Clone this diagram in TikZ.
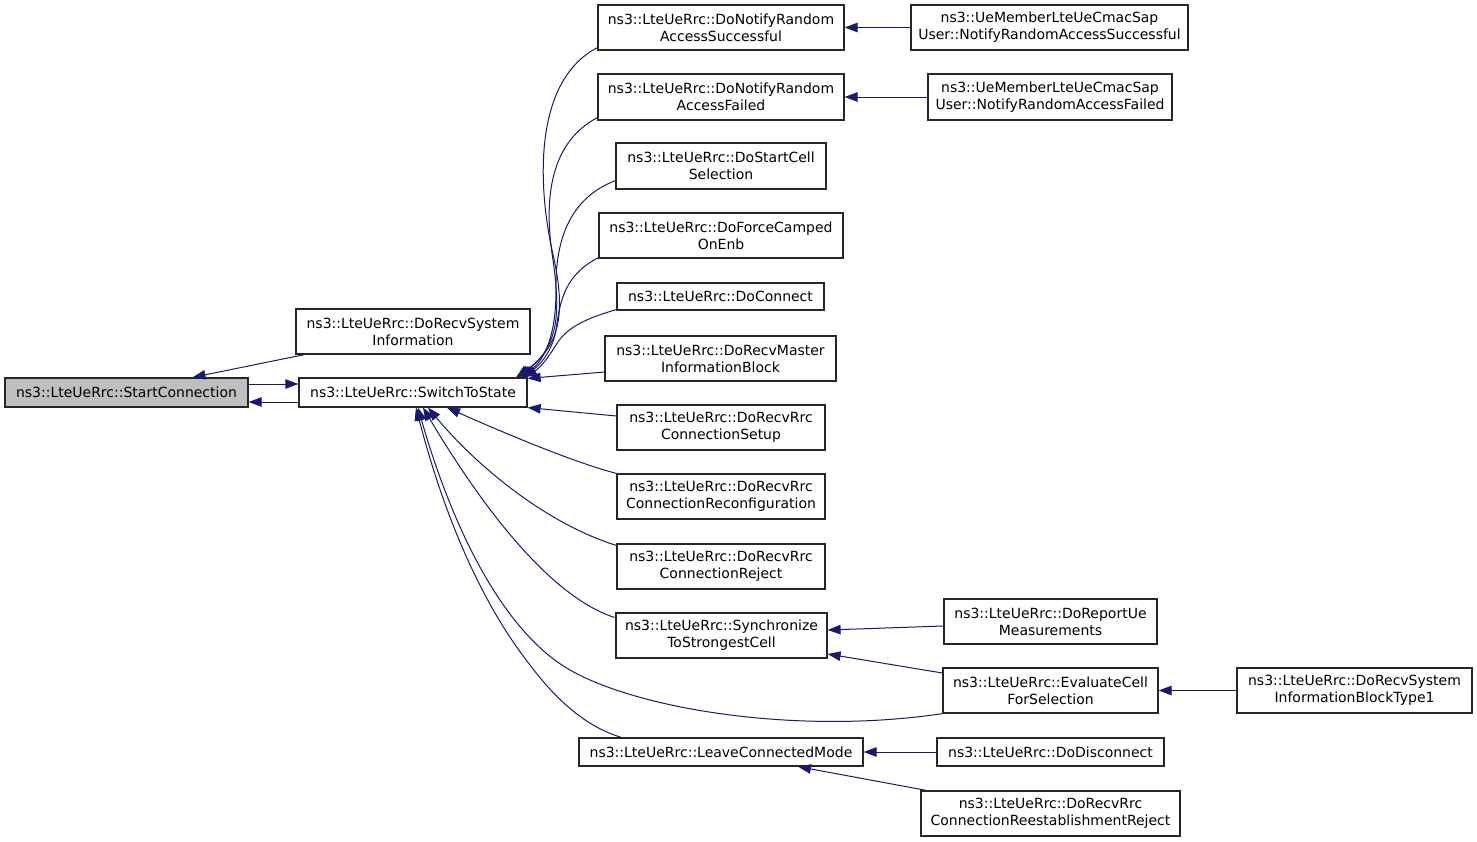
\documentclass[tikz,border=0pt]{standalone}
\usepackage{fontspec}
\setmainfont{DejaVu Sans}
\usetikzlibrary{arrows.meta,calc}
\definecolor{edgecol}{HTML}{191970}
\definecolor{rootfill}{HTML}{BFBFBF}
\begin{document}
\begin{tikzpicture}[x=1pt,y=-1pt,
  box/.style={draw=black!85,line width=1.2pt,fill=white,inner sep=0pt,align=center,
    font=\fontsize{14}{17}\selectfont},
  edge/.style={draw=edgecol,line width=1pt,-{Triangle[length=13pt,width=9.5pt]}}]
\useasboundingbox (0,0) rectangle (1477,841);
% nodes
\node[box,fill=rootfill,minimum width=243,minimum height=29] (sc) at (126.5,392.5) {ns3::LteUeRrc::StartConnection};
\node[box,minimum width=234,minimum height=45] (drsi) at (413,331.5) {ns3::LteUeRrc::DoRecvSystem\\Information};
\node[box,minimum width=228,minimum height=29] (sts) at (413,392.5) {ns3::LteUeRrc::SwitchToState};
\node[box,minimum width=246,minimum height=45] (dnras) at (721,27.5) {ns3::LteUeRrc::DoNotifyRandom\\AccessSuccessful};
\node[box,minimum width=246,minimum height=46] (dnraf) at (721,97) {ns3::LteUeRrc::DoNotifyRandom\\AccessFailed};
\node[box,minimum width=210,minimum height=46] (dscs) at (721,166) {ns3::LteUeRrc::DoStartCell\\Selection};
\node[box,minimum width=244,minimum height=45] (dfco) at (721,235.5) {ns3::LteUeRrc::DoForceCamped\\OnEnb};
\node[box,minimum width=207,minimum height=27] (dcon) at (720.5,296.5) {ns3::LteUeRrc::DoConnect};
\node[box,minimum width=231,minimum height=45] (drmib) at (720.5,358.5) {ns3::LteUeRrc::DoRecvMaster\\InformationBlock};
\node[box,minimum width=208,minimum height=45] (drrcs) at (721,427.5) {ns3::LteUeRrc::DoRecvRrc\\ConnectionSetup};
\node[box,minimum width=208,minimum height=45] (drrcr) at (721,496.5) {ns3::LteUeRrc::DoRecvRrc\\ConnectionReconfiguration};
\node[box,minimum width=208,minimum height=45] (drrcj) at (721,566.5) {ns3::LteUeRrc::DoRecvRrc\\ConnectionReject};
\node[box,minimum width=211,minimum height=45] (stsc) at (721.5,635.5) {ns3::LteUeRrc::Synchronize\\ToStrongestCell};
\node[box,minimum width=284,minimum height=28] (lcm) at (721,752) {ns3::LteUeRrc::LeaveConnectedMode};
\node[box,minimum width=277,minimum height=45] (uenras) at (1049.5,27.5) {ns3::UeMemberLteUeCmacSap\\User::NotifyRandomAccessSuccessful};
\node[box,minimum width=244,minimum height=46] (uenraf) at (1050,97) {ns3::UeMemberLteUeCmacSap\\User::NotifyRandomAccessFailed};
\node[box,minimum width=213,minimum height=45] (drum) at (1050.5,621.5) {ns3::LteUeRrc::DoReportUe\\Measurements};
\node[box,minimum width=215,minimum height=45] (ecfs) at (1050.5,690.5) {ns3::LteUeRrc::EvaluateCell\\ForSelection};
\node[box,minimum width=227,minimum height=28] (ddis) at (1050.5,752) {ns3::LteUeRrc::DoDisconnect};
\node[box,minimum width=259,minimum height=45] (drrcrr) at (1050.5,813.5) {ns3::LteUeRrc::DoRecvRrc\\ConnectionReestablishmentReject};
\node[box,minimum width=235,minimum height=45] (drsib) at (1354.5,690.5) {ns3::LteUeRrc::DoRecvSystem\\InformationBlockType1};
% edges
\path[edge] ($(drsi.south west)+(9,0)$) -- ($(sc.north)+(66,0)$);
\path[edge] ($(sc.east)+(0,-8.5)$) -- ($(sts.west)+(0,-8.5)$);
\path[edge] ($(sts.west)+(0,9.5)$) -- ($(sc.east)+(0,9.5)$);
% curves to top of SwitchToState
\path[edge] ($(dnras.south west)+(0,-3)$) .. controls (535,80) and (537,180) .. (552,250) .. controls (566,310) and (562,345) .. ($(sts.north)+(103,0)$);
\path[edge] ($(dnraf.south west)+(0,-3)$) .. controls (545,145) and (545,210) .. (553,260) .. controls (560,310) and (560,345) .. ($(sts.north)+(105,0)$);
\path[edge] ($(dscs.south west)+(0,-9)$) .. controls (570,198) and (555,240) .. (556,290) .. controls (556,335) and (545,360) .. ($(sts.north)+(107,0)$);
\path[edge] ($(dfco.south west)+(0,-1)$) .. controls (565,275) and (560,300) .. (556,330) .. controls (552,352) and (540,365) .. ($(sts.north)+(109,0)$);
\path[edge] ($(dcon.south west)+(0,-1)$) .. controls (580,320) and (565,330) .. (556,345) .. controls (548,358) and (540,368) .. ($(sts.north)+(111,0)$);
\path[edge] ($(drmib.west)+(0,13.5)$) -- ($(sts.north east)+(0,1)$);
\path[edge] ($(drrcs.west)+(0,-11.5)$) -- ($(sts.south east)+(0,0)$);
% curves to bottom of SwitchToState
\path[edge] (drrcr.north west) .. controls (580,464) and (520,440) .. ($(sts.south)+(34,0)$);
\path[edge] ($(drrcj.north west)+(0,2)$) .. controls (550,525) and (480,470) .. ($(sts.south)+(15,0)$);
\path[edge] ($(stsc.north west)+(-1,5)$) .. controls (555,598) and (490,520) .. ($(sts.south)+(10,0)$);
\path[edge] (ecfs.south west) .. controls (800,735) and (640,710) .. (570,670) .. controls (500,630) and (450,520) .. ($(sts.south)+(5,0)$);
\path[edge] ($(lcm.north west)+(43,0)$) .. controls (590,728) and (560,705) .. (530,665) .. controls (475,595) and (440,500) .. ($(sts.south)+(3,0)$);
% right-side edges
\path[edge] (uenras.west) -- (dnras.east);
\path[edge] (uenraf.west) -- (dnraf.east);
\path[edge] ($(drum.west)+(0,4.5)$) -- ($(stsc.east)+(0,-5.5)$);
\path[edge] ($(ecfs.west)+(0,-17.5)$) -- ($(stsc.east)+(0,18.5)$);
\path[edge] (drsib.west) -- (ecfs.east);
\path[edge] (ddis.west) -- (lcm.east);
\path[edge] ($(drrcrr.north west)+(6,0)$) -- ($(lcm.south)+(77,0)$);
\end{tikzpicture}
\end{document}
